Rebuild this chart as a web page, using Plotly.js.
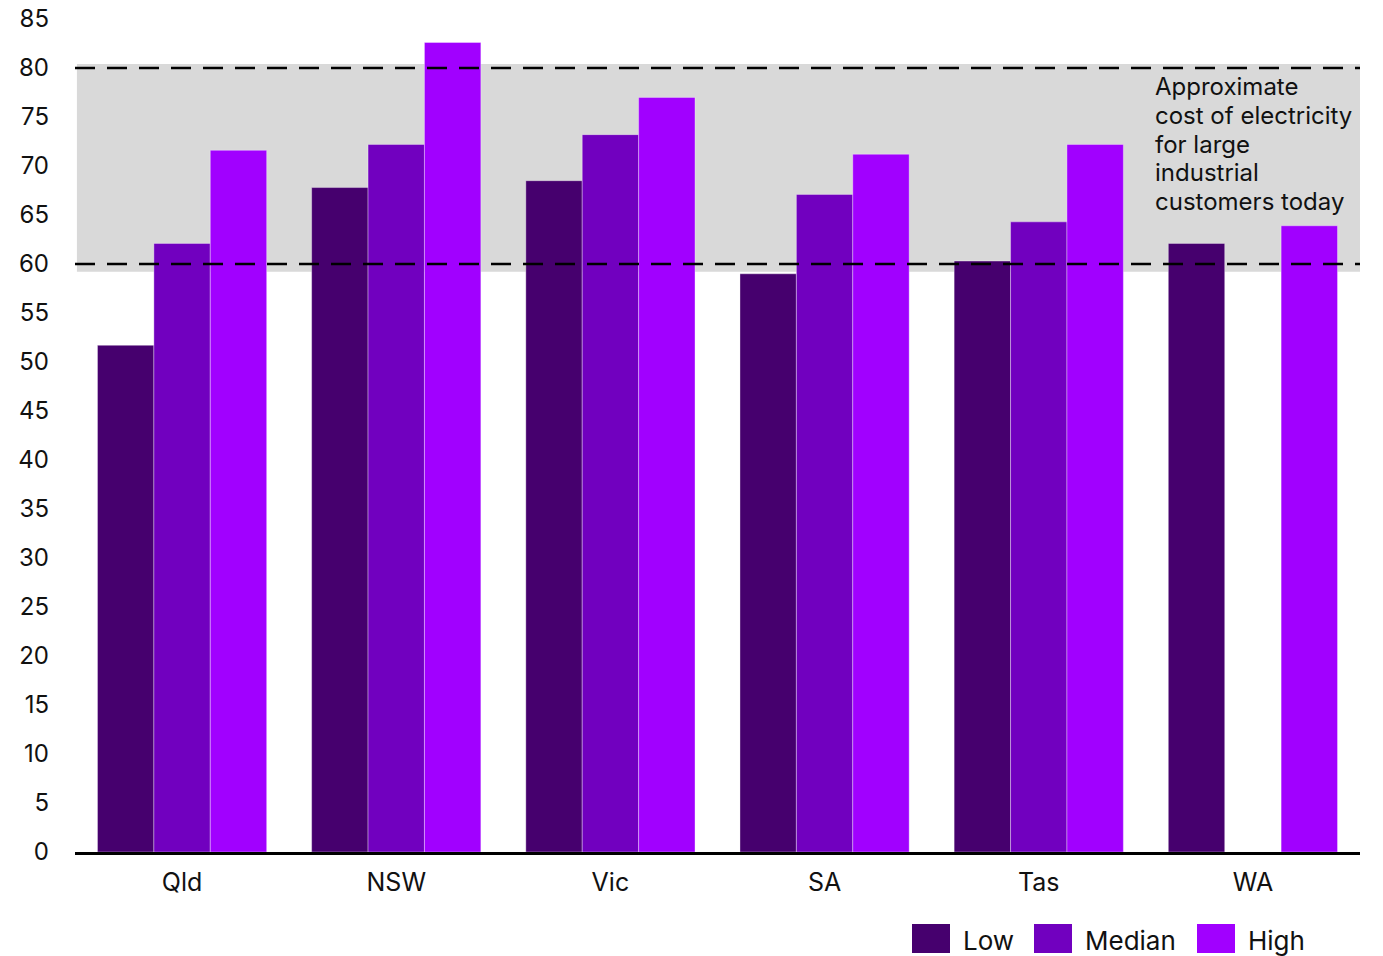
<!DOCTYPE html>
<html>
<head>
<meta charset="utf-8">
<script src="https://cdn.plot.ly/plotly-3.0.1.min.js"></script>
<style>html,body{margin:0;padding:0;background:#fff;}#chart{width:1383px;height:956px;}</style>
</head>
<body>
<div id="chart"></div>
<script>
const categories = ["Qld", "NSW", "Vic", "SA", "Tas", "WA"];
const lowValues = [51.7, 67.8, 68.5, 59.0, 60.3, 62.1];
const medianValues = [62.1, 72.2, 73.2, 67.1, 64.3, null];
const highValues = [71.6, 82.6, 77.0, 71.2, 72.2, 63.9];
const seriesNames = ["Low", "Median", "High"];
const bandRange = [59.2, 80.4];
const dashedLevels = [60, 80];
const yTicks = [0,5,10,15,20,25,30,35,40,45,50,55,60,65,70,75,80,85];
const noteLines = ["Approximate", "cost of electricity", "for large", "industrial", "customers today"];

const FONT = "Inter, 'Noto Sans', sans-serif";
const colors = {Low: "#46006e", Median: "#7100bf", High: "#a100ff"};

// plot geometry (pixels) used to place the hand-built legend and note
const W = 1383, H = 956, ML = 75, MR = 23, MT = 19, MB = 104;
const PW = W - ML - MR, PH = H - MT - MB;
const px2x = p => (p - ML) / PW;
const px2y = p => (H - MB - p) / PH;

function barTrace(name, vals) {
  return {
    type: "bar", name: name, x: categories, y: vals, showlegend: false,
    marker: {color: colors[name], line: {color: "rgba(255,255,255,0.35)", width: 1}},
    hoverinfo: "x+y+name"
  };
}

const data = [
  barTrace("Low", lowValues),
  barTrace("Median", medianValues),
  barTrace("High", highValues)
];

const shapes = [
  {type: "rect", xref: "paper", yref: "y", x0: 0.0015, x1: 1, y0: bandRange[0], y1: bandRange[1],
   fillcolor: "#d9d9d9", line: {width: 0}, layer: "below"}
].concat(dashedLevels.map(v => ({
  type: "line", xref: "paper", yref: "y", x0: 0, x1: 1, y0: v, y1: v,
  line: {color: "#000", width: 2.5, dash: "20px,12px"}, layer: "above"
})));

// legend (swatches + labels)
const legendSwatchX = [912, 1034, 1197];
const legendY0 = 924, legendY1 = 953, legendSw = 38;
const annotations = [];
seriesNames.forEach((n, i) => {
  shapes.push({type: "rect", xref: "paper", yref: "paper",
    x0: px2x(legendSwatchX[i]), x1: px2x(legendSwatchX[i] + legendSw),
    y0: px2y(legendY1), y1: px2y(legendY0),
    fillcolor: colors[n], line: {width: 0}});
  annotations.push({xref: "paper", yref: "paper", x: px2x(legendSwatchX[i] + legendSw + 11),
    y: px2y(940), xanchor: "left", yanchor: "middle", text: n, showarrow: false,
    font: {family: FONT, size: 26, color: "#111"}});
});

noteLines.forEach((t, i) => {
  annotations.push({xref: "paper", yref: "paper", x: px2x(1153), y: px2y(87 + i * 28.5),
    xanchor: "left", yanchor: "middle", text: t, showarrow: false, align: "left",
    font: {family: FONT, size: 24, color: "#111"}});
});

const layout = {
  width: W, height: H,
  margin: {l: ML, r: MR, t: MT, b: MB, autoexpand: false},
  paper_bgcolor: "#fff", plot_bgcolor: "rgba(0,0,0,0)",
  font: {family: FONT, size: 24, color: "#111"},
  barmode: "group", bargap: 0.21, bargroupgap: 0,
  showlegend: false,
  xaxis: {showline: true, linecolor: "#000", linewidth: 2.5, ticks: "", showgrid: false,
          ticklabelstandoff: 6,
          tickfont: {family: FONT, size: 25, color: "#111"}, fixedrange: true},
  yaxis: {range: [0, 85], tickvals: yTicks, ticktext: yTicks.map(String), showgrid: false,
          zeroline: false, showline: false, ticks: "", ticklabelstandoff: 25,
          tickfont: {family: FONT, size: 24, color: "#111"}, fixedrange: true},
  shapes: shapes,
  annotations: annotations
};

Plotly.newPlot("chart", data, layout, {displayModeBar: false, staticPlot: true});
</script>
</body>
</html>
